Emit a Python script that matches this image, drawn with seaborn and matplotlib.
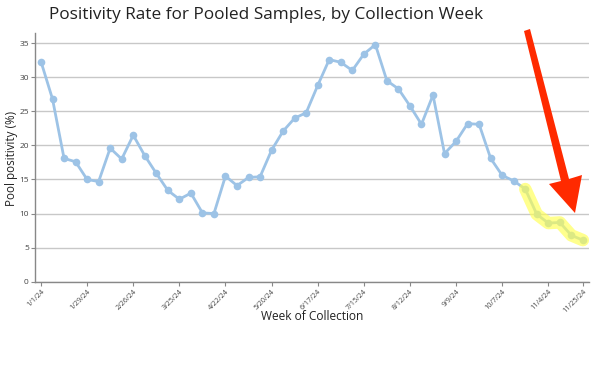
import matplotlib
matplotlib.use("Agg")
import matplotlib.pyplot as plt
import seaborn as sns
import pandas as pd
from matplotlib.patches import Polygon

weeks = ["1/1/24", "1/8/24", "1/15/24", "1/22/24", "1/29/24", "2/5/24", "2/12/24", "2/19/24",
         "2/26/24", "3/4/24", "3/11/24", "3/18/24", "3/25/24", "4/1/24", "4/8/24", "4/15/24",
         "4/22/24", "4/29/24", "5/6/24", "5/13/24", "5/20/24", "5/27/24", "6/3/24", "6/10/24",
         "6/17/24", "6/24/24", "7/1/24", "7/8/24", "7/15/24", "7/22/24", "7/29/24", "8/5/24",
         "8/12/24", "8/19/24", "8/26/24", "9/2/24", "9/9/24", "9/16/24", "9/23/24", "9/30/24",
         "10/7/24", "10/14/24", "10/21/24", "10/28/24", "11/4/24", "11/11/24", "11/18/24", "11/25/24"]
positivity = [32.3, 26.8, 18.1, 17.6, 15.0, 14.7, 19.6, 18.0,
              21.5, 18.5, 15.9, 13.4, 12.1, 13.0, 10.1, 10.0,
              15.5, 14.1, 15.3, 15.4, 19.3, 22.1, 24.0, 24.8,
              28.8, 32.6, 32.2, 31.0, 33.4, 34.8, 29.5, 28.3,
              25.8, 23.1, 27.4, 18.8, 20.6, 23.2, 23.1, 18.1,
              15.6, 14.8, 13.6, 9.9, 8.6, 8.7, 6.8, 6.1]
tick_labels = ["1/1/24", "1/29/24", "2/26/24", "3/25/24", "4/22/24", "5/20/24", "6/17/24",
               "7/15/24", "8/12/24", "9/9/24", "10/7/24", "11/4/24", "11/25/24"]
highlight_start = "10/21/24"

df = pd.DataFrame({"week": weeks, "positivity": positivity})
df["idx"] = range(len(df))

sns.set_theme(style="white")
plt.rcParams["font.family"] = ["Open Sans", "DejaVu Sans"]

fig = plt.figure(figsize=(6, 3.76), dpi=100)
ax = fig.add_axes([35/600, 1-281.7/376, (589-35)/600, (281.7-33)/376])

line_color = "#9DC3E6"
sns.lineplot(data=df, x="idx", y="positivity", ax=ax, color=line_color, linewidth=2.0,
             marker="o", markersize=5.5, markeredgewidth=0, markerfacecolor=line_color, zorder=3)

hl = df[df["idx"] >= weeks.index(highlight_start)]
ax.plot(hl["idx"], hl["positivity"], color="#FFFF50", alpha=0.65, linewidth=9,
        solid_capstyle="round", solid_joinstyle="round", zorder=4)

ax.set_xlim(-0.52, 47.53)
ax.set_ylim(0, 36.5)
ax.set_yticks([0, 5, 10, 15, 20, 25, 30, 35])
ax.yaxis.grid(True, color="#C8C8C8", linewidth=1)
ax.xaxis.grid(False)
tick_pos = [weeks.index(t) for t in tick_labels]
ax.set_xticks(tick_pos)
ax.set_xticklabels(tick_labels, rotation=45, ha="right", rotation_mode="anchor",
                   fontsize=5.2, color="#444444")
for lbl in ax.get_yticklabels():
    lbl.set_fontsize(6.0)
    lbl.set_color("#444444")
ax.tick_params(axis="both", which="both", length=3, width=0.8, color="#888888",
               bottom=True, left=True, pad=1.5)
for s in ["top", "right"]:
    ax.spines[s].set_visible(False)
for s in ["left", "bottom"]:
    ax.spines[s].set_color("#888888")
    ax.spines[s].set_linewidth(1)

ax.set_xlabel("Week of Collection", fontsize=8.6, color="#222222", labelpad=2)
ax.set_ylabel("Pool positivity (%)", fontsize=8.4, color="#222222", labelpad=4)
ax.xaxis.set_label_coords((312-35)/554, -(310.5-281.7)/248.7)
ax.yaxis.set_label_coords(-(35-18)/554, (281.7-158)/248.7)

fig.text(266/600, 1-15/376, "Positivity Rate for Pooled Samples, by Collection Week",
         ha="center", va="center", fontsize=12.4, color="#222222")

pts = [(524, 31), (530, 29), (569, 179), (582, 175), (575, 213), (549, 184), (561, 181)]
poly = Polygon([(x/600, 1-y/376) for x, y in pts], closed=True, transform=fig.transFigure,
               facecolor="#FF2A00", edgecolor="none", zorder=10)
fig.add_artist(poly)

fig.savefig("out.png", dpi=100)
